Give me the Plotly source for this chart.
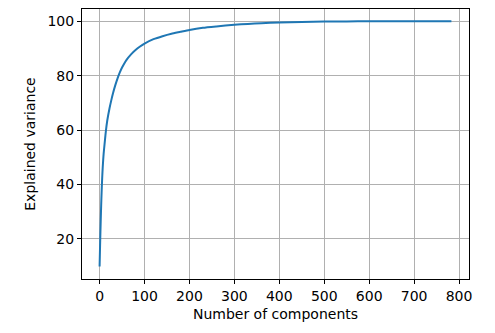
import plotly.graph_objects as go

components = [0, 1, 2, 3, 4, 5, 6, 7, 8, 9, 10, 12, 14, 17, 22, 26, 30, 35, 40, 45, 50,
              55, 60, 70, 80, 90, 100, 120, 140, 160, 180, 200, 230, 260, 300, 330, 360,
              400, 450, 500, 550, 600, 650, 700, 783]
explained = [9.8, 17.0, 23.5, 29.5, 34.8, 39.3, 43.2, 46.4, 49.0, 51.2, 53.0, 56.4, 59.6,
             63.4, 67.9, 70.9, 73.6, 76.5, 79.0, 81.2, 83.0, 84.5, 85.8, 87.8, 89.4, 90.7,
             91.8, 93.4, 94.5, 95.4, 96.1, 96.8, 97.6, 98.1, 98.7, 99.0, 99.3, 99.55,
             99.75, 99.88, 99.94, 99.97, 99.99, 100.0, 100.0]

x_ticks = [0, 100, 200, 300, 400, 500, 600, 700, 800]
y_ticks = [20, 40, 60, 80, 100]

fig = go.Figure()
fig.add_trace(go.Scatter(x=components, y=explained, mode="lines",
                         line=dict(color="#1f77b4", width=2, shape="spline", smoothing=0.5),
                         showlegend=False))

axis_common = dict(showline=True, linecolor="black", linewidth=1, mirror=True,
                   ticks="outside", ticklen=4, tickwidth=1, tickcolor="black",
                   showgrid=True, gridcolor="#b0b0b0", gridwidth=1, zeroline=False,
                   tickfont=dict(family="DejaVu Sans", size=14, color="black"))

fig.update_layout(
    width=495, height=333,
    margin=dict(l=82, r=26, t=9, b=54),
    paper_bgcolor="white", plot_bgcolor="white",
    font=dict(family="DejaVu Sans", size=14, color="black"),
    xaxis=dict(range=[-39.15, 822.15], tickvals=x_ticks,
               title=dict(text="Number of components", standoff=6,
                          font=dict(family="DejaVu Sans", size=14)),
               **axis_common),
    yaxis=dict(range=[5.2, 104.5], tickvals=y_ticks,
               title=dict(text="Explained variance", standoff=8,
                          font=dict(family="DejaVu Sans", size=14)),
               **axis_common),
)

fig.write_html("out.html")
